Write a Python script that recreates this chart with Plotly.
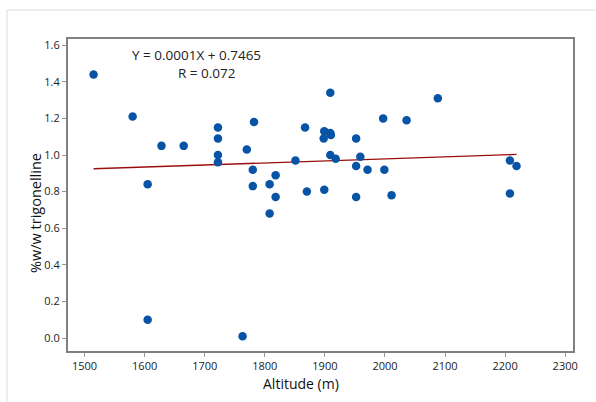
import plotly.graph_objects as go

altitude = [1515, 1580, 1605, 1605, 1628, 1665, 1722, 1722, 1722, 1722,
            1763, 1770, 1780, 1780, 1782, 1808, 1808, 1818, 1818, 1851,
            1867, 1870, 1898, 1899, 1899, 1909, 1909, 1910, 1909, 1918,
            1952, 1952, 1952, 1959, 1971, 1997, 1999, 2011, 2036, 2088,
            2208, 2208, 2219]
trigonelline = [1.44, 1.21, 0.84, 0.10, 1.05, 1.05, 1.15, 1.09, 1.00, 0.96,
                0.01, 1.03, 0.92, 0.83, 1.18, 0.84, 0.68, 0.89, 0.77, 0.97,
                1.15, 0.80, 1.09, 1.13, 0.81, 1.34, 1.12, 1.11, 1.00, 0.98,
                1.09, 0.94, 0.77, 0.99, 0.92, 1.20, 0.92, 0.78, 1.19, 1.31,
                0.97, 0.79, 0.94]
fit_x = [1515, 2219]
fit_y = [0.925, 1.003]
eq_text = "Y = 0.0001X + 0.7465"
r_text = "R = 0.072"
x_title = "Altitude (m)"
y_title = "%w/w trigonelline"

fig = go.Figure()
fig.add_trace(go.Scatter(x=fit_x, y=fit_y, mode="lines",
                         line=dict(color="#9b0e0e", width=1.3), showlegend=False))
fig.add_trace(go.Scatter(x=altitude, y=trigonelline, mode="markers",
                         marker=dict(color="#0753a6", size=8.5), showlegend=False))

L, R, T, B = 68, 23, 39, 51
W, H = 596 - L - R, 402 - T - B

fig.add_annotation(x=1687, y=1.544, text=eq_text, showarrow=False, xanchor="center",
                   yanchor="middle", font=dict(size=13.5, color="#222"))
fig.add_annotation(x=1704, y=1.450, text=r_text, showarrow=False, xanchor="center",
                   yanchor="middle", font=dict(size=13.5, color="#222"))

fig.add_annotation(xref="paper", yref="paper", x=(301 - L) / W, y=(402 - B - 383) / H,
                   text=x_title, showarrow=False, xanchor="center", yanchor="middle",
                   font=dict(size=14, color="#111"))
fig.add_annotation(xref="paper", yref="paper", x=(35 - L) / W, y=(402 - B - 213) / H,
                   text=y_title, showarrow=False, xanchor="center", yanchor="middle",
                   textangle=-90, font=dict(size=14.5, color="#111"))

fig.add_shape(type="rect", xref="paper", yref="paper",
              x0=(7 - L) / W, x1=1.3, y0=-0.3, y1=(402 - B - 10) / H,
              line=dict(color="#dcdcdc", width=1), fillcolor="rgba(0,0,0,0)", layer="below")

axis_common = dict(showline=True, linecolor="#808080", linewidth=2, mirror=True,
                   ticks="outside", ticklen=4, tickcolor="#999", showgrid=False,
                   zeroline=False, tickfont=dict(size=11, color="#222"))

fig.update_layout(
    width=596, height=402,
    margin=dict(l=L, r=R, t=T, b=B),
    paper_bgcolor="white", plot_bgcolor="white",
    font=dict(family="Open Sans, Noto Sans, sans-serif", color="#222"),
    xaxis=dict(range=[1472.4, 2313], tickvals=list(range(1500, 2301, 100)), **axis_common),
    yaxis=dict(range=[-0.071, 1.634], tickvals=[0, 0.2, 0.4, 0.6, 0.8, 1.0, 1.2, 1.4, 1.6],
               tickformat=".1f", **axis_common),
)

fig.write_html("out.html")
